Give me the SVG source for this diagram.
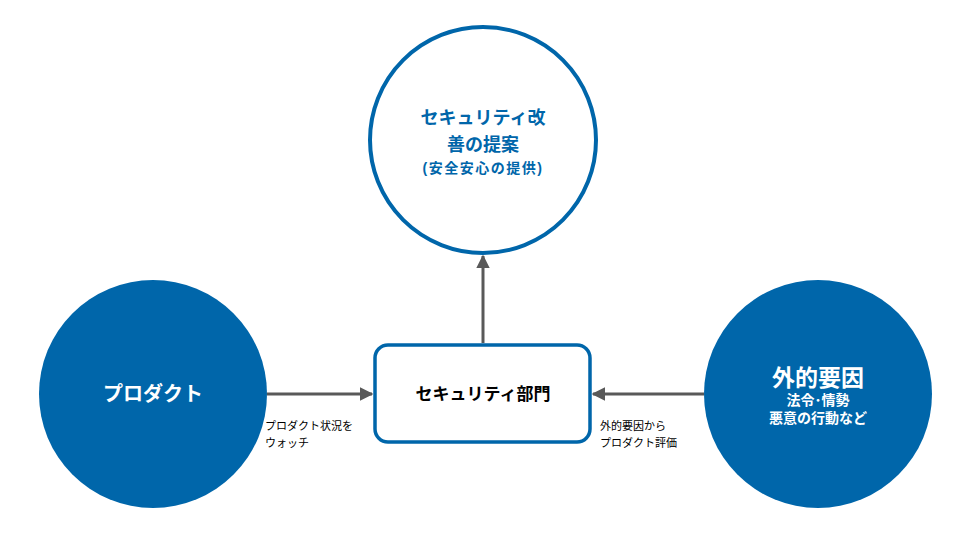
<svg xmlns="http://www.w3.org/2000/svg" width="960" height="540" viewBox="0 0 960 540">
<style>
text{font-family:"Liberation Sans","Noto Sans CJK JP",sans-serif;font-weight:bold;text-anchor:middle}
.lbl{font-weight:normal;text-anchor:start;font-size:11px;fill:#000}
.conn{stroke:#595959;stroke-width:3;fill:none}
</style>
<defs>
<marker id="ah" viewBox="0 0 10 10" refX="9" refY="5" markerWidth="4.5" markerHeight="4.5" orient="auto" markerUnits="strokeWidth">
<path d="M0,0 L10,5 L0,10 z" fill="#595959"/>
</marker>
</defs>
<rect width="960" height="540" fill="#fff"/>
<g id="connectors">
<line class="conn" x1="483" y1="343" x2="483" y2="256" marker-end="url(#ah)"/>
<line class="conn" x1="267" y1="394" x2="372" y2="394" marker-end="url(#ah)"/>
<line class="conn" x1="704" y1="394" x2="593" y2="394" marker-end="url(#ah)"/>
<text class="lbl" x="265" y="430">プロダクト状況を</text>
<text class="lbl" x="265" y="447">ウォッチ</text>
<text class="lbl" x="600" y="430">外的要因から</text>
<text class="lbl" x="600" y="447">プロダクト評価</text>
</g>
<g id="proposal">
<circle cx="483" cy="140" r="113" fill="#fff" stroke="#0066AA" stroke-width="4"/>
<text x="483" y="124" font-size="18" fill="#0066AA">セキュリティ改</text>
<text x="483" y="151" font-size="18" fill="#0066AA">善の提案</text>
<text x="483" y="173" font-size="14" fill="#0066AA" letter-spacing="1.5">(安全安心の提供)</text>
</g>
<g id="product">
<circle cx="153" cy="394" r="114" fill="#0066AA"/>
<text x="153" y="401" font-size="20" fill="#fff">プロダクト</text>
</g>
<g id="department">
<rect x="375" y="345" width="215" height="97" rx="13" fill="#fff" stroke="#0066AA" stroke-width="3.5"/>
<text x="483" y="400" font-size="17" fill="#000">セキュリティ部門</text>
</g>
<g id="external">
<circle cx="818" cy="394" r="114" fill="#0066AA"/>
<text x="818" y="386" font-size="23" fill="#fff">外的要因</text>
<text x="818" y="405" font-size="14" fill="#fff">法令･情勢</text>
<text x="818" y="423" font-size="14" fill="#fff">悪意の行動など</text>
</g>
</svg>
